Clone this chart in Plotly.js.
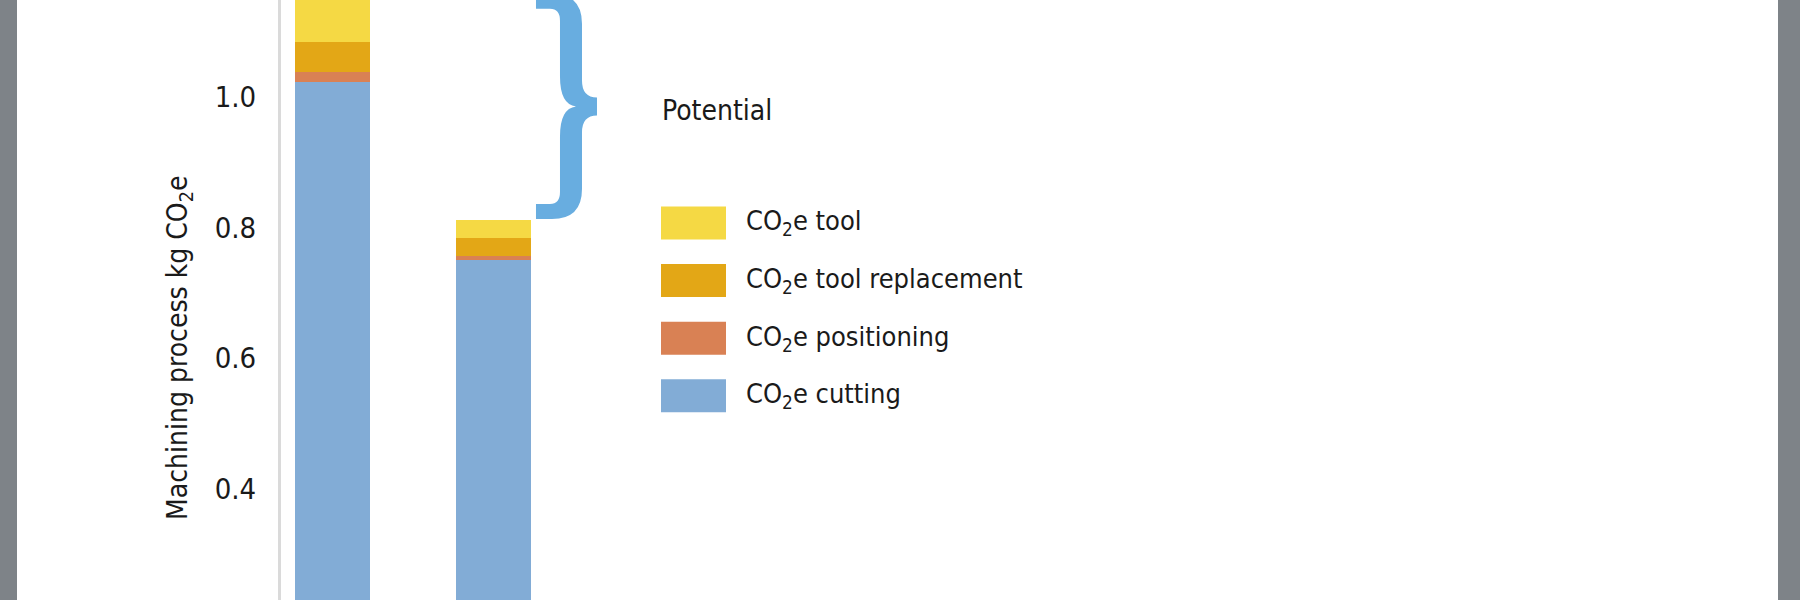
<!DOCTYPE html>
<html>
<head>
<meta charset="utf-8">
<script src="https://cdn.plot.ly/plotly-3.0.1.min.js"></script>
<style>
  html, body { margin: 0; padding: 0; background: #7e8388; overflow: hidden; }
  #chart { position: absolute; left: 17px; top: 0; width: 1761px; height: 600px; background: #fff; }
</style>
</head>
<body>
<div id="chart"></div>
<script>
// values (kg CO2e), stacked bottom to top
var cases = ['Case 1', 'Case 2'];
var cutting = [1.0225, 0.7505];
var positioning = [0.0162, 0.0066];
var toolReplacement = [0.0450, 0.0275];
var tool = [0.0743, 0.0271];

var seriesValues = [cutting, positioning, toolReplacement, tool];
var seriesNames = ['CO<sub>2</sub>e cutting', 'CO<sub>2</sub>e positioning',
                   'CO<sub>2</sub>e tool replacement', 'CO<sub>2</sub>e tool'];
var seriesColors = ['#82acd6', '#d98154', '#e3a716', '#f5d944'];
var yTicks = [0.2, 0.4, 0.6, 0.8, 1.0];
var yTitle = 'Machining process kg CO<sub>2</sub>e';
var braceLabel = 'Potential';

var FONT = 'DejaVu Sans Condensed, sans-serif';
var W = 1761, H = 600, ML = 264, PW = W - ML;
var xRange = [-0.32, 8.98], yRange = [0.230, 1.1485];
var barWidth = 0.466;

// helpers px (inside the div) <-> data / paper
function xToPx(x) { return ML + (x - xRange[0]) / (xRange[1] - xRange[0]) * PW; }
function yToPx(y) { return (yRange[1] - y) / (yRange[1] - yRange[0]) * H; }
function px2paperX(px) { return (px - ML) / PW; }
function px2paperY(py) { return 1 - py / H; }

var data = [];
for (var i = 0; i < seriesValues.length; i++) {
  data.push({
    x: cases,
    y: seriesValues[i],
    name: seriesNames[i],
    type: 'bar',
    width: barWidth,
    marker: {color: seriesColors[i], line: {width: 0}},
    showlegend: false
  });
}

// totals of each bar, used for the brace
var totals = cases.map(function (c, k) {
  return seriesValues.reduce(function (s, arr) { return s + arr[k]; }, 0);
});

var shapes = [], annotations = [];

// curly brace between the two bar tops
var T = yToPx(totals[0]), B = yToPx(totals[1]) - 1, M = (T + B) / 2;
var xL = xToPx(1 + barWidth / 2) + 5;
var xs1 = xL + 24, xs2 = xL + 46, xTip = xL + 61, h = 15;
function P(px, py) { return px2paperX(px).toFixed(5) + ',' + px2paperY(py).toFixed(5); }
var bracePath =
  'M' + P(xL, T) +
  ' L' + P(xs1 - 8, T) +
  ' Q' + P(xs2, T) + ' ' + P(xs2, T + 30) +
  ' L' + P(xs2, M - 26) +
  ' Q' + P(xs2, M - 9) + ' ' + P(xTip, M - 9) +
  ' L' + P(xTip, M + 9) +
  ' Q' + P(xs2, M + 9) + ' ' + P(xs2, M + 26) +
  ' L' + P(xs2, B - 30) +
  ' Q' + P(xs2, B) + ' ' + P(xs1 - 8, B) +
  ' L' + P(xL, B) +
  ' L' + P(xL, B - h) +
  ' L' + P(xs1 - 10, B - h) +
  ' Q' + P(xs1, B - h) + ' ' + P(xs1, B - h - 12) +
  ' L' + P(xs1, M + 30) +
  ' Q' + P(xs1, M + 2) + ' ' + P(xs1 + 16, M) +
  ' Q' + P(xs1, M - 2) + ' ' + P(xs1, M - 30) +
  ' L' + P(xs1, T + h + 12) +
  ' Q' + P(xs1, T + h) + ' ' + P(xs1 - 10, T + h) +
  ' L' + P(xL, T + h) + ' Z';
shapes.push({
  type: 'path', xref: 'paper', yref: 'paper', path: bracePath,
  fillcolor: '#68ade0', line: {width: 0}
});

annotations.push({
  xref: 'paper', yref: 'paper', x: px2paperX(643), y: px2paperY(110),
  xanchor: 'left', yanchor: 'middle', showarrow: false,
  text: braceLabel, font: {family: FONT, size: 28, color: '#1a1a1a'}
});

// hand-made legend, top row is the top of the stack
var legTop = 223, legStep = 57.6;
for (var j = 0; j < seriesNames.length; j++) {
  var s = seriesNames.length - 1 - j;
  var cy = legTop + j * legStep;
  shapes.push({
    type: 'rect', xref: 'paper', yref: 'paper',
    x0: px2paperX(644), x1: px2paperX(709),
    y0: px2paperY(cy - 16.5), y1: px2paperY(cy + 16.5),
    fillcolor: seriesColors[s], line: {width: 0}
  });
  annotations.push({
    xref: 'paper', yref: 'paper', x: px2paperX(727), y: px2paperY(cy),
    xanchor: 'left', yanchor: 'middle', showarrow: false,
    text: seriesNames[s], font: {family: FONT, size: 27, color: '#1a1a1a'}
  });
}

// y axis title
annotations.push({
  xref: 'paper', yref: 'paper', x: px2paperX(162), y: px2paperY(348),
  xanchor: 'center', yanchor: 'middle', showarrow: false, textangle: -90,
  text: yTitle, font: {family: FONT, size: 28, color: '#1a1a1a'}
});

var layout = {
  width: W, height: H,
  margin: {l: ML, r: 0, t: 0, b: 0, pad: 0},
  paper_bgcolor: '#ffffff', plot_bgcolor: '#ffffff',
  barmode: 'stack',
  showlegend: false,
  font: {family: FONT, size: 28, color: '#1a1a1a'},
  xaxis: {
    type: 'category', range: xRange, showticklabels: false, showline: false,
    showgrid: false, zeroline: false, ticks: '', fixedrange: true
  },
  yaxis: {
    range: yRange, tickvals: yTicks, tickformat: '.1f', showgrid: false, zeroline: false,
    showline: true, linecolor: '#dadada', linewidth: 3, ticks: '',
    ticklabelstandoff: 16,
    tickfont: {family: FONT, size: 29, color: '#1a1a1a'}, fixedrange: true
  },
  shapes: shapes,
  annotations: annotations
};

Plotly.newPlot('chart', data, layout, {displayModeBar: false, staticPlot: true});
</script>
</body>
</html>
